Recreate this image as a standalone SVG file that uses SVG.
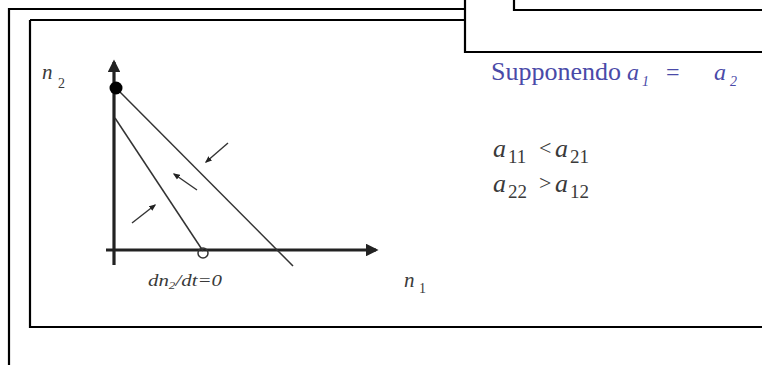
<svg xmlns="http://www.w3.org/2000/svg" width="762" height="365" viewBox="0 0 762 365">
<style>
.frame{fill:none;stroke:#000;stroke-width:2.2}
.axis{fill:none;stroke:#222;stroke-width:3.2}
.ln{fill:none;stroke:#333;stroke-width:1.5}
.arr{fill:none;stroke:#333;stroke-width:1.4}
.t{font-family:"Liberation Serif",serif;fill:#3a3a3a}
.it{font-style:italic}
.blue{fill:#4a4aa8}
</style>
<defs>
<marker id="ah" viewBox="0 0 10 10" refX="8" refY="5" markerWidth="4" markerHeight="4" orient="auto">
<path d="M0,0 L10,5 L0,10 z" fill="#222"/>
</marker>
<marker id="sa" viewBox="0 0 10 10" refX="8" refY="5" markerWidth="5" markerHeight="5" orient="auto">
<path d="M0,1 L10,5 L0,9 z" fill="#222"/>
</marker>
</defs>
<rect width="762" height="365" fill="#fff"/>
<g id="frames">
<path class="frame" d="M9,365 V9 H465"/>
<path class="frame" d="M30,20 H465 M30,20 V327 H762"/>
<path class="frame" d="M465,0 V52 H762"/>
<path class="frame" d="M514,0 V10 H762"/>
</g>
<g id="axes">
<path class="axis" d="M114,265 V62" marker-end="url(#ah)"/>
<path class="axis" d="M106,250 H376" marker-end="url(#ah)"/>
</g>
<g id="connectors">
<path class="ln" d="M116,88 L293,266"/>
<path class="ln" d="M115,118 L203,251"/>
<path class="arr" d="M228,143 L206,162" marker-end="url(#sa)"/>
<path class="arr" d="M197,190 L174,174" marker-end="url(#sa)"/>
<path class="arr" d="M132,223 L155,205" marker-end="url(#sa)"/>
</g>
<g id="points">
<circle cx="116" cy="88" r="6.5" fill="#000"/>
<circle cx="203" cy="253" r="5" fill="none" stroke="#333" stroke-width="1.5"/>
</g>
<g id="labels">
<text class="t it" x="42" y="79" font-size="21">n</text>
<text class="t" x="58" y="88" font-size="14">2</text>
<text class="t it" x="148" y="286" font-size="16" textLength="74" lengthAdjust="spacingAndGlyphs">dn<tspan font-size="10" dy="3">2</tspan><tspan dy="-3">/dt=0</tspan></text>
<text class="t it" x="404" y="287" font-size="21">n</text>
<text class="t" x="419" y="293" font-size="14">1</text>
<text class="t blue" x="491" y="80" font-size="26">Supponendo</text>
<text class="t blue it" x="627" y="80" font-size="24">a</text>
<text class="t blue it" x="642" y="86" font-size="14">1</text>
<text class="t blue" x="666" y="80" font-size="24">=</text>
<text class="t blue it" x="714" y="80" font-size="24">a</text>
<text class="t blue it" x="730" y="86" font-size="14">2</text>
<text class="t it" x="493" y="157" font-size="26">a</text>
<text class="t" x="508" y="163" font-size="19">11</text>
<text class="t" x="539" y="155" font-size="22">&lt;</text>
<text class="t it" x="555" y="157" font-size="26">a</text>
<text class="t" x="570" y="163" font-size="19">21</text>
<text class="t it" x="493" y="192" font-size="26">a</text>
<text class="t" x="508" y="198" font-size="19">22</text>
<text class="t" x="539" y="190" font-size="22">&gt;</text>
<text class="t it" x="555" y="192" font-size="26">a</text>
<text class="t" x="570" y="198" font-size="19">12</text>
</g>
</svg>
